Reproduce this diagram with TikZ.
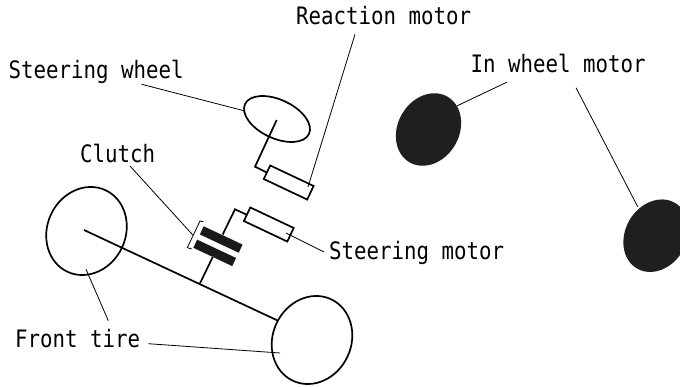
\documentclass[tikz,border=0pt]{standalone}
\usepackage{fontspec}
\usetikzlibrary{shapes.geometric}
\setmainfont[FakeStretch=0.865]{DejaVu Sans Mono}
\tikzset{
  lbl/.style={inner sep=0pt,font=\fontsize{24}{26}\selectfont,anchor=base west},
  part/.style={draw=black,line width=1.7pt},
  lead/.style={draw=black,line width=0.8pt},
  oval/.style={shape=ellipse,inner sep=0pt,outer sep=0pt},
  tire/.style={oval,part,minimum width=90pt,minimum height=78.4pt,rotate=65},
  hub/.style={oval,fill=black!88,minimum width=75.8pt,minimum height=61.4pt,rotate=60},
  motorbox/.style={shape=rectangle,part,fill=white,minimum width=48pt,minimum height=15pt,inner sep=0pt,rotate=-25.3},
  plate/.style={shape=rectangle,fill=black!90,minimum width=43pt,minimum height=9pt,inner sep=0pt,rotate=-25.2},
}
\begin{document}
\begin{tikzpicture}[x=1pt,y=-1pt]
\path[use as bounding box,clip] (0,0) rectangle (680,387);
% labels
\node[lbl] (lsw) at (8.5,79) {Steering wheel};
\node[lbl] (lrm) at (296,25) {Reaction motor};
\node[lbl] (liw) at (470.5,73) {In wheel motor};
\node[lbl] (lcl) at (80,163) {Clutch};
\node[lbl] (lsm) at (329,260) {Steering motor};
\node[lbl] (lft) at (15,348) {Front tire};
% shapes
\node[tire] (tl) at (86.5,231) {};
\node[tire] (tr) at (312,340) {};
\node[oval,part,minimum width=70.6pt,minimum height=38.6pt,rotate=-25] (sw) at (277,119) {};
\node[hub] (h1) at (428.5,129.5) {};
\node[hub] (h2) at (656,235.7) {};
\node[motorbox] (rm) at (288.7,182.5) {};
\node[motorbox] (sm) at (268.8,224.5) {};
\node[plate] (p1) at (221.2,239.5) {};
\node[plate] (p2) at (214.7,252.9) {};
% named points
\coordinate (axa) at (84,230);
\coordinate (axb) at (278,320.7);
\coordinate (st) at (200,283.3);
\coordinate (bu) at (235,209.3);
\coordinate (swc) at (276.7,120);
\coordinate (swb) at (255,166.7);
\coordinate (br1) at (203.3,221.7);
\coordinate (br2) at (200,221);
\coordinate (br3) at (187.3,247.7);
\coordinate (br4) at (191.7,249);
% shafts
\draw[part] (axa) -- (axb);
\draw[part] (st) -- (p2);
\draw[part] (p1) ++(1.5,-5) -- (bu) -- (247.3,215);
\draw[part] (swc) -- (swb) -- (267.3,172.7);
\draw[draw=black,line width=0.8pt] (br1) -- (br2) -- (br3) -- (br4);
% leaders
\coordinate (a1) at (141.7,84.3); \coordinate (b1) at (245,111);
\coordinate (a2) at (355,34.3);   \coordinate (b2) at (308,187);
\coordinate (a3) at (130,166);    \coordinate (b3) at (192.8,235);
\coordinate (a4) at (506.7,82.3); \coordinate (b4) at (456.7,106);
\coordinate (a5) at (576,87.7);   \coordinate (b5) at (637.7,206.7);
\coordinate (a6) at (324,252);    \coordinate (b6) at (286,233);
\coordinate (a7) at (108.3,320.7);\coordinate (b7) at (86,269.3);
\coordinate (a8) at (148.3,343.7);\coordinate (b8) at (280,353);
\foreach \i in {1,...,8} \draw[lead] (a\i) -- (b\i);
\end{tikzpicture}
\end{document}
